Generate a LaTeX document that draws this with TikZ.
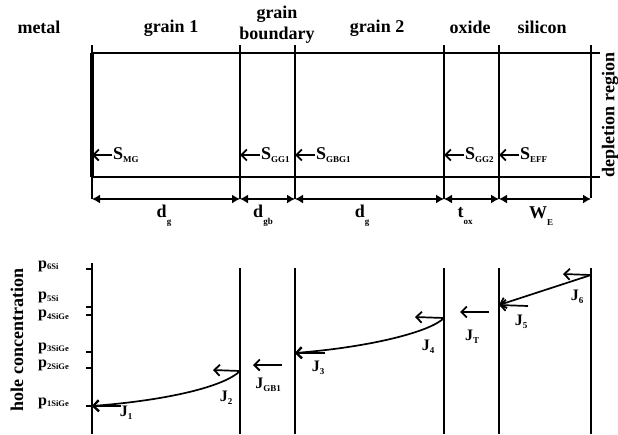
\documentclass[tikz,border=0pt]{standalone}
\usepackage{fontspec}
\setmainfont{Liberation Serif}
\usetikzlibrary{arrows.meta}
\newcommand\lsub[1]{\raisebox{-0.45ex}{\fontsize{9}{9}\selectfont #1}}
\newcommand\psub[1]{\raisebox{-0.25ex}{\fontsize{8.5}{8.5}\selectfont #1}}
\newcommand\dsub[1]{\raisebox{-0.9ex}{\fontsize{9}{9}\selectfont #1}}
\begin{document}
\begin{tikzpicture}[x=1pt,y=-1pt,
  lbl/.style={font=\fontsize{18}{18}\selectfont\bfseries, inner sep=0pt},
  plbl/.style={font=\fontsize{16}{16}\selectfont\bfseries, inner sep=0pt, anchor=base west},
  jl/.style={font=\fontsize{16}{16}\selectfont\bfseries, inner sep=0pt},
  wall/.style={line width=1.6pt},
  thin/.style={line width=1.4pt},
  flux/.style={line width=1.7pt, -{Straight Barb[length=5.5pt,width=11pt,line width=1.8pt]}},
  dimarr/.style={line width=1.4pt, {Latex[length=8pt,width=9pt]}-{Latex[length=8pt,width=9pt]}}]
\useasboundingbox (0,0) rectangle (618,434);
% ---------- top diagram ----------
\foreach \n/\x in {a/92,b/240,c/295,d/444,e/499,f/591}{
  \coordinate (t\n) at (\x,45);
  \coordinate (u\n) at (\x,53);
  \coordinate (l\n) at (\x,177);
  \coordinate (d\n) at (\x,199);
  \coordinate (s\n) at (\x,155);
  \coordinate (h\n) at (\x,268);
  \coordinate (z\n) at (\x,434);
}
\coordinate (uend) at (600,53);
\coordinate (lend) at (600,177);
\draw[wall] (ua) -- (uend);
\draw[wall] (la) -- (lend);
\draw[thin] (ta) -- (ua);
\draw[line width=3.2pt] (ua) -- (la);
\draw[thin] (la) -- (da);
\foreach \n in {b,c,d,e}{\draw[wall] (t\n) -- (d\n);}
\draw[wall] (tf) -- ([yshift=1pt]df);
\draw[dimarr] (da) -- (db);
\draw[dimarr] (db) -- (dc);
\draw[dimarr] (dc) -- (dd);
\draw[dimarr] (dd) -- (de);
\draw[dimarr] (de) -- (df);
% surface arrows
\foreach \n/\t in {a/MG,b/GG1,c/GBG1,d/GG2,e/EFF}{
  \coordinate (sa\n) at ([xshift=20pt]s\n);
  \draw[flux] (sa\n) -- (s\n);
  \node[lbl, anchor=west] (S\n) at ([xshift=1pt]sa\n) {S\lsub{\t}};
}
% region labels
\node[lbl] (metal) at (39,27) {metal};
\node[lbl] (g1) at (171,28) {grain 1};
\node[lbl] (gb1) at (277,14) {grain};
\node[lbl] (gb2) at (277,35) {boundary};
\node[lbl] (g2) at (377,28) {grain 2};
\node[lbl] (ox) at (470,27) {oxide};
\node[lbl] (si) at (542,27) {silicon};
\node[lbl, rotate=90] (dep) at (610,115) {depletion region};
% dimension labels
\node[lbl] (dg1) at (164,216) {d\dsub{g}};
\node[lbl] (dgb) at (263,216) {d\dsub{gb}};
\node[lbl] (dg2) at (362,216) {d\dsub{g}};
\node[lbl] (tox) at (465,216) {t\dsub{ox}};
\node[lbl] (we) at (541,216) {W\dsub{E}};
% ---------- bottom diagram ----------
\coordinate (axtop) at (92,263);
\draw[wall] (axtop) -- (za);
\foreach \n in {b,c,d,e,f}{\draw[wall] (h\n) -- (z\n);}
\foreach \k/\y in {6/269,5/307,4/315,3/352,2/368,1/406}{
  \coordinate (k\k) at (86,\y);
  \coordinate (kk\k) at (92,\y);
  \draw[wall] (k\k) -- (kk\k);
}
\node[plbl] (p6) at (38,268) {p\psub{6Si}};
\node[plbl] (p5) at (38,299.5) {p\psub{5Si}};
\node[plbl] (p4) at (38,317.5) {p\psub{4SiGe}};
\node[plbl] (p3) at (38,350) {p\psub{3SiGe}};
\node[plbl] (p2) at (38,367.5) {p\psub{2SiGe}};
\node[plbl] (p1) at (38,405) {p\psub{1SiGe}};
\node[lbl, rotate=90] (hc) at (17,340) {hole concentration};
% concentration profiles
\coordinate (c1s) at (240,371);
\coordinate (c1e) at (92,406);
\coordinate (c2s) at (444,318);
\coordinate (c2e) at (295,353);
\coordinate (c3s) at (591,275);
\coordinate (c3e) at (499,305);
\draw[flux] (c1s) .. controls (225,386) and (170,400) .. (c1e);
\draw[flux] (c2s) .. controls (430,332) and (370,347) .. (c2e);
\draw[flux] (c3s) -- (c3e);
% flux arrows
\coordinate (j1a) at (121,406);
\draw[flux, line width=2.4pt] (j1a) -- (c1e);
\coordinate (j2a) at (213,370);
\draw[flux] (c1s) -- (j2a);
\coordinate (gba) at (282,365);
\coordinate (gbb) at (253,365);
\draw[flux] (gba) -- (gbb);
\coordinate (j3a) at (325,353);
\draw[flux, line width=2.4pt] (j3a) -- (c2e);
\coordinate (j4a) at (415,317);
\draw[flux] (c2s) -- (j4a);
\coordinate (jta) at (489,312);
\coordinate (jtb) at (460,312);
\draw[flux] (jta) -- (jtb);
\coordinate (j5a) at (528,306);
\draw[flux] (j5a) -- (c3e);
\coordinate (j6a) at (563,274);
\draw[flux] (c3s) -- (j6a);
% flux labels
\node[jl] (J1) at (126,413) {J\lsub{1}};
\node[jl] (J2) at (226,398) {J\lsub{2}};
\node[jl] (JGB) at (268,385) {J\lsub{GB1}};
\node[jl] (J3) at (318,368) {J\lsub{3}};
\node[jl] (J4) at (428,347) {J\lsub{4}};
\node[jl] (JT) at (472,337) {J\lsub{T}};
\node[jl] (J5) at (521,322) {J\lsub{5}};
\node[jl] (J6) at (577,297) {J\lsub{6}};
\end{tikzpicture}
\end{document}
